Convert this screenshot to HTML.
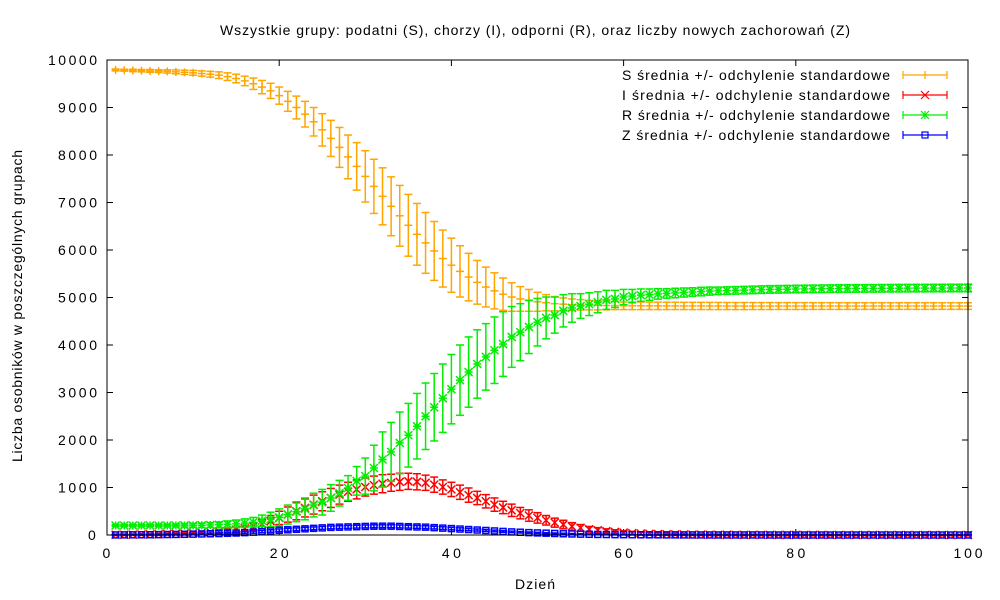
<!DOCTYPE html>
<html><head><meta charset="utf-8"><style>
body{margin:0;background:#fff}
svg{display:block;font-family:"Liberation Sans","DejaVu Sans",sans-serif;font-size:14px}
</style></head><body>
<svg id="chart" width="1000" height="600" viewBox="0 0 1000 600">
<text x="220" y="35" textLength="630" lengthAdjust="spacing">Wszystkie grupy: podatni (S), chorzy (I), odporni (R), oraz liczby nowych zachorowań (Z)</text>
<text x="515" y="589" textLength="40" lengthAdjust="spacing">Dzień</text>
<text transform="translate(22,462) rotate(-90)" textLength="312" lengthAdjust="spacing">Liczba osobników w poszczególnych grupach</text>
<g id="axes"></g><g id="marks"></g><g id="legend"></g>
<rect x="107" y="60" width="861" height="475" fill="none" stroke="#000" stroke-width="1"/>
</svg>
<script>
const xTicks=[0,20,40,60,80,100];
const yTicks=[0,1000,2000,3000,4000,5000,6000,7000,8000,9000,10000];
const sMean=[9790,9785,9780,9775,9770,9765,9760,9750,9740,9730,9715,9700,9680,9650,9610,9560,9500,9430,9350,9250,9130,9000,8860,8700,8530,8350,8160,7960,7760,7550,7340,7130,6920,6720,6520,6330,6150,5980,5820,5680,5550,5430,5320,5220,5140,5070,5010,4970,4940,4910,4890,4870,4860,4850,4845,4840,4835,4830,4830,4825,4825,4825,4824,4824,4823,4823,4822,4822,4822,4821,4821,4821,4820,4820,4820,4820,4820,4820,4820,4820,4820,4820,4820,4820,4820,4820,4820,4820,4820,4820,4820,4820,4820,4820,4820,4820,4820,4820,4820,4820];
const sSd=[20,20,25,25,30,30,35,40,45,50,55,60,70,80,90,100,120,140,160,180,210,240,270,300,340,380,420,460,500,540,570,600,620,640,650,650,640,620,600,570,540,500,460,420,380,340,300,260,230,200,170,150,130,120,110,100,95,90,85,80,80,80,78,78,77,77,76,76,75,75,75,74,74,74,73,73,73,72,72,72,72,71,71,71,71,70,70,70,70,70,70,70,70,70,70,70,70,70,70,70];
const rMean=[200,200,200,200,200,200,200,200,201,202,205,210,215,225,235,250,270,300,330,370,430,490,550,630,690,780,880,990,1140,1240,1410,1590,1750,1940,2100,2290,2500,2690,2880,3070,3260,3430,3600,3750,3890,4020,4170,4270,4380,4480,4570,4630,4720,4780,4820,4860,4900,4950,4970,5010,5030,5050,5060,5075,5085,5095,5105,5115,5125,5135,5140,5145,5150,5155,5160,5165,5170,5172,5175,5178,5180,5182,5184,5186,5188,5190,5191,5192,5193,5194,5195,5196,5197,5198,5198,5199,5199,5200,5200,5200];
const rSd=[20,20,20,20,22,24,26,30,35,40,45,50,60,70,80,90,100,120,150,180,200,210,230,250,270,280,270,260,300,380,480,580,620,650,670,690,700,710,720,730,740,740,720,700,700,680,640,600,560,500,440,380,340,300,260,240,220,200,180,160,140,130,120,110,100,100,95,90,90,85,80,80,80,80,80,80,80,80,80,80,80,80,80,80,80,80,80,80,80,80,80,80,80,80,80,80,80,80,80,80];
const iMean=[5,5,8,10,12,15,20,25,30,40,50,60,75,90,110,140,180,230,290,360,430,500,570,640,710,780,850,910,960,1010,1050,1080,1100,1120,1130,1120,1100,1060,1010,960,900,840,780,710,640,580,520,460,410,360,310,260,220,180,150,120,100,80,65,50,40,32,25,20,15,12,10,8,6,5,4,4,3,3,2,2,2,1,1,1,1,1,1,0,0,0,0,0,0,0,0,0,0,0,0,0,0,0,0,0];
const iSd=[10,10,10,12,12,14,15,16,18,20,20,25,30,40,50,60,80,100,120,140,160,180,190,200,200,200,200,200,200,190,190,190,180,180,170,170,160,160,150,150,150,150,140,140,140,130,130,120,120,110,100,95,90,80,70,60,55,50,45,40,35,30,28,25,22,20,18,16,14,12,10,10,8,8,6,6,5,5,4,4,3,3,3,2,2,2,2,2,2,2,2,2,2,2,2,2,2,2,2,2];
const zMean=[2,3,4,5,6,8,10,12,15,18,22,26,30,36,42,50,60,70,85,100,110,120,130,140,150,160,165,170,175,180,185,185,185,180,175,170,165,155,145,135,125,115,105,95,85,75,65,58,50,44,38,32,27,22,18,15,12,10,8,7,6,5,4,4,3,3,2,2,2,1,1,1,1,1,1,1,0,0,0,0,0,0,0,0,0,0,0,0,0,0,0,0,0,0,0,0,0,0,0,0];
const zSd=[5,5,6,6,7,8,9,10,11,12,13,14,15,16,18,20,22,24,26,28,30,30,30,30,30,30,30,30,30,30,30,30,30,30,30,30,30,28,28,26,26,24,22,20,18,17,16,15,14,13,12,11,10,9,8,7,6,6,5,5,4,4,4,3,3,3,3,3,2,2,2,2,2,2,2,2,2,2,2,2,2,2,2,2,2,2,2,2,2,2,2,2,2,2,2,2,2,2,2,2];
const legendLabels=["S średnia +/- odchylenie standardowe","I średnia +/- odchylenie standardowe","R średnia +/- odchylenie standardowe","Z średnia +/- odchylenie standardowe"];

const NS="http://www.w3.org/2000/svg";
const X0=107,X1=968,Y0=535,Y1=60;
const xs=v=>X0+(v-0)/(100-0)*(X1-X0);
const ys=v=>Y0-(v-0)/(10000-0)*(Y0-Y1);
function mk(tag,attrs,parent){const e=document.createElementNS(NS,tag);for(const k in attrs)e.setAttribute(k,attrs[k]);parent.appendChild(e);return e;}
const axes=document.getElementById('axes'),marks=document.getElementById('marks'),leg=document.getElementById('legend');
xTicks.forEach(t=>{const x=xs(t);
 const g=mk('g',{},axes);
 
 
 mk('line',{x1:x,x2:x,y1:Y0,y2:Y0-6,stroke:'#000'},g);
 mk('line',{x1:x,x2:x,y1:Y1,y2:Y1+6,stroke:'#000'},g);
 const w=String(t).length*10-1;
 const tx=mk('text',{x:x-w/2,y:Y0+23,textLength:w,lengthAdjust:'spacing'},g);tx.textContent=t;});
yTicks.forEach(t=>{const y=ys(t);
 const g=mk('g',{},axes);
 
 
 mk('line',{x1:X0,x2:X0+6,y1:y,y2:y,stroke:'#000'},g);
 mk('line',{x1:X1,x2:X1-6,y1:y,y2:y,stroke:'#000'},g);
 const w=String(t).length*10-1;
 const tx=mk('text',{x:97-w,y:y+5,textLength:w,lengthAdjust:'spacing'},g);tx.textContent=t;});
function marker(g,type,x,y,c){
 const h=4;
 if(type==='plus'||type==='star'){mk('line',{x1:x-h,x2:x+h,y1:y,y2:y,stroke:c},g);mk('line',{x1:x,x2:x,y1:y-h,y2:y+h,stroke:c},g);}
 if(type==='cross'||type==='star'){mk('line',{x1:x-h,x2:x+h,y1:y-h,y2:y+h,stroke:c},g);mk('line',{x1:x-h,x2:x+h,y1:y+h,y2:y-h,stroke:c},g);}
 if(type==='box'){mk('rect',{x:x-3,y:y-3,width:6,height:6,fill:'none',stroke:c},g);}
}
const series=[
 {name:'s',mean:sMean,sd:sSd,c:'#ffa500',m:'plus'},
 {name:'i',mean:iMean,sd:iSd,c:'#ff0000',m:'cross'},
 {name:'r',mean:rMean,sd:rSd,c:'#00ee00',m:'star'},
 {name:'z',mean:zMean,sd:zSd,c:'#0000ff',m:'box'}];
series.forEach((s,si)=>{
 const g=mk('g',{'stroke-width':1.5},marks);
 
 
 s.mean.forEach((v,i)=>{const x=xs(i+1),y=ys(v),yt=ys(v+s.sd[i]),yb=ys(Math.max(0,v-s.sd[i]));
  mk('line',{x1:x,x2:x,y1:yt,y2:yb,stroke:s.c},g);
  mk('line',{x1:x-4,x2:x+4,y1:yt,y2:yt,stroke:s.c},g);
  mk('line',{x1:x-4,x2:x+4,y1:yb,y2:yb,stroke:s.c},g);
  marker(g,s.m,x,y,s.c);});
 const ly=75+si*20;
 const lg=mk('g',{'stroke-width':1.2},leg);
 
 
 const t=mk('text',{x:622,y:ly+5,textLength:268,lengthAdjust:'spacing'},lg);t.textContent=legendLabels[si];
 mk('line',{x1:903,x2:947,y1:ly,y2:ly,stroke:s.c},lg);
 mk('line',{x1:903,x2:903,y1:ly-4,y2:ly+4,stroke:s.c},lg);
 mk('line',{x1:947,x2:947,y1:ly-4,y2:ly+4,stroke:s.c},lg);
 marker(lg,s.m,925,ly,s.c);
});
</script>
</body></html>
